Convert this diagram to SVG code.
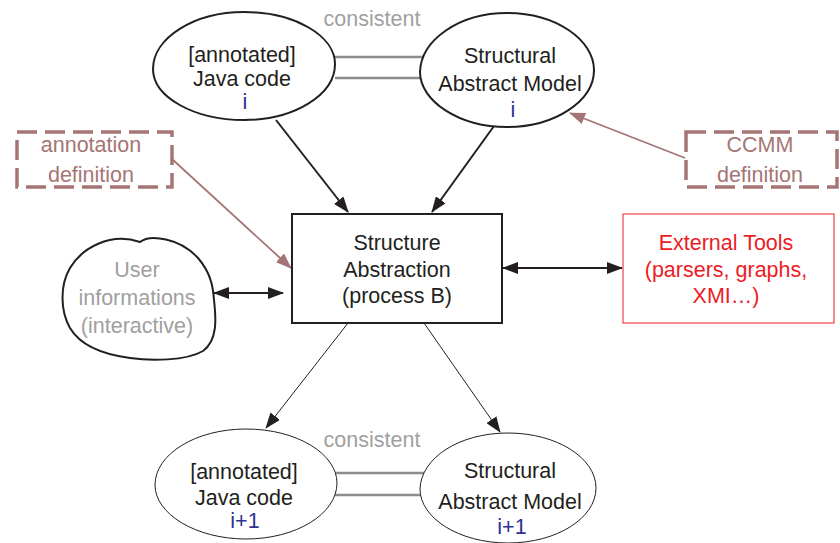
<svg xmlns="http://www.w3.org/2000/svg" width="840" height="543" viewBox="0 0 840 543">
  <style>
    text { font-family: "Liberation Sans", Arial, sans-serif; font-size: 21.5px; text-anchor: middle; }
    .dark { fill: #231f20; }
    .idx { fill: #2e3192; }
    .grey { fill: #a0a0a0; }
    .rose { fill: #a57575; }
    .red { fill: #ec1c24; }
    .outline-thick { fill: #ffffff; stroke: #231f20; stroke-width: 2; }
    .outline-thin { fill: #ffffff; stroke: #231f20; stroke-width: 1; }
    .dashed { fill: none; stroke: #a57575; stroke-width: 3.5; stroke-dasharray: 20 8; }
    .consistent { stroke: #8c8c8c; stroke-width: 2.5; }
    .arrow-thick { stroke: #231f20; stroke-width: 2; fill: none; }
    .arrow-thin { stroke: #231f20; stroke-width: 1; fill: none; }
    .arrow-rose { stroke: #a57575; stroke-width: 1.8; fill: none; }
  </style>
  <defs>
    <marker id="head" markerUnits="userSpaceOnUse" markerWidth="16" markerHeight="12" refX="15" refY="6" orient="auto-start-reverse">
      <path d="M0,0 L16,6 L0,12 Z" fill="#231f20"/>
    </marker>
    <marker id="head-rose" markerUnits="userSpaceOnUse" markerWidth="16" markerHeight="12" refX="15" refY="6" orient="auto">
      <path d="M0,0 L16,6 L0,12 Z" fill="#a57575"/>
    </marker>
  </defs>

  <!-- connectors -->
  <g id="connectors">
    <!-- consistency links, step i -->
    <line class="consistent" x1="333" y1="57" x2="426" y2="57"/>
    <line class="consistent" x1="335" y1="78" x2="422" y2="78"/>
    <text class="grey" x="372" y="26">consistent</text>
    <!-- consistency links, step i+1 -->
    <line class="consistent" x1="333" y1="473" x2="426" y2="473"/>
    <line class="consistent" x1="335" y1="495" x2="422" y2="495"/>
    <text class="grey" x="372" y="447">consistent</text>

    <!-- inputs into the abstraction process -->
    <line class="arrow-thick" x1="276" y1="120" x2="348" y2="212" marker-end="url(#head)"/>
    <line class="arrow-thick" x1="494" y1="126" x2="432" y2="212" marker-end="url(#head)"/>
    <line class="arrow-rose" x1="172" y1="159" x2="291" y2="268" marker-end="url(#head-rose)"/>
    <line class="arrow-rose" x1="685" y1="158" x2="570" y2="113" marker-end="url(#head-rose)"/>

    <!-- interactions -->
    <line class="arrow-thick" x1="214" y1="293" x2="283" y2="293" marker-start="url(#head)" marker-end="url(#head)"/>
    <line class="arrow-thick" x1="503" y1="268" x2="622" y2="268" marker-start="url(#head)" marker-end="url(#head)"/>

    <!-- outputs -->
    <line class="arrow-thin" x1="348" y1="323" x2="266" y2="428" marker-end="url(#head)"/>
    <line class="arrow-thin" x1="424" y1="323" x2="500" y2="432" marker-end="url(#head)"/>
  </g>

  <g id="java-code-i">
    <path class="outline-thick" d="M244,12 C295,12 335,36 335,64 C335,95 294,120 244,120 C194,120 153,97 153,69 C153,38 194,12 244,12 Z"/>
    <text class="dark" x="242" y="62">[annotated]</text>
    <text class="dark" x="242" y="86">Java code</text>
    <text class="idx" x="245" y="109">i</text>
  </g>

  <g id="model-i">
    <path class="outline-thick" d="M507,13 C556,13 594,40 594,70 C594,101 555,127 507,127 C459,127 420,101 420,72 C421,40 459,13 507,13 Z"/>
    <text class="dark" x="510" y="63">Structural</text>
    <text class="dark" x="510" y="91">Abstract Model</text>
    <text class="idx" x="513" y="117">i</text>
  </g>

  <g id="annotation-definition">
    <rect class="dashed" x="17" y="132" width="155" height="55"/>
    <text class="rose" x="91" y="152">annotation</text>
    <text class="rose" x="91" y="182">definition</text>
  </g>

  <g id="ccmm-definition">
    <rect class="dashed" x="686" y="132" width="151" height="55"/>
    <text class="rose" x="760" y="152">CCMM</text>
    <text class="rose" x="760" y="182">definition</text>
  </g>

  <g id="structure-abstraction">
    <rect x="292" y="214" width="210" height="109" fill="#ffffff" stroke="#231f20" stroke-width="2"/>
    <text class="dark" x="397" y="250">Structure</text>
    <text class="dark" x="397" y="277">Abstraction</text>
    <text class="dark" x="397" y="303">(process B)</text>
  </g>

  <g id="user-informations">
    <path class="outline-thick" d="M140,242 C150,234 180,238 198,258 C210,272 213,285 214,300 C216,318 218,340 203,351 C186,361 150,361 130,358 C100,354 80,345 70,328 C60,310 60,285 70,268 C82,248 110,232 140,242 Z"/>
    <text class="grey" x="137" y="277">User</text>
    <text class="grey" x="137" y="305">informations</text>
    <text class="grey" x="137" y="333">(interactive)</text>
  </g>

  <g id="external-tools">
    <rect x="623" y="214" width="211" height="109" fill="#ffffff" stroke="#ec1c24" stroke-width="1"/>
    <text class="red" x="726" y="250">External Tools</text>
    <text class="red" x="726" y="277">(parsers, graphs,</text>
    <text class="red" x="726" y="303">XMI…)</text>
  </g>

  <g id="java-code-next">
    <path class="outline-thin" d="M246,429 C297,429 337,454 337,483 C337,514 296,539 246,539 C196,539 155,514 155,485 C155,454 196,429 246,429 Z"/>
    <text class="dark" x="244" y="479">[annotated]</text>
    <text class="dark" x="244" y="505">Java code</text>
    <text class="idx" x="245" y="528">i+1</text>
  </g>

  <g id="model-next">
    <path class="outline-thin" d="M508,433 C557,433 596,458 596,488 C596,518 557,543 508,543 C459,543 420,518 420,489 C421,458 459,433 508,433 Z"/>
    <text class="dark" x="510" y="478">Structural</text>
    <text class="dark" x="510" y="509">Abstract Model</text>
    <text class="idx" x="512" y="534">i+1</text>
  </g>
</svg>
